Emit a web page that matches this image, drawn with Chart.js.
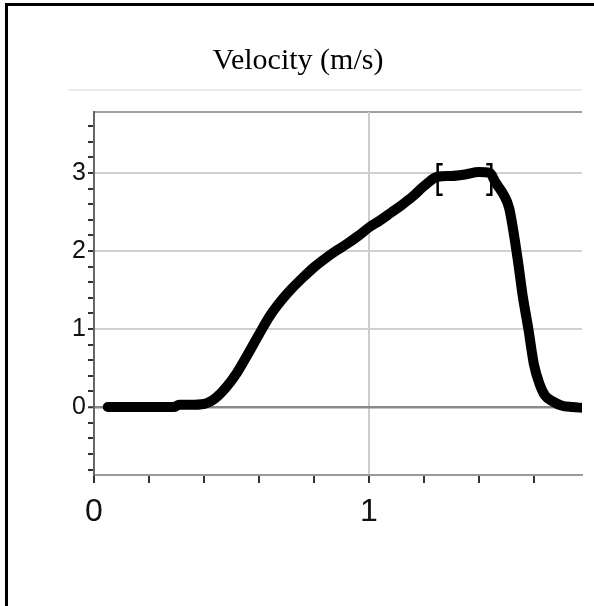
<!DOCTYPE html>
<html>
<head>
<meta charset="utf-8">
<title>Velocity (m/s)</title>
<script src="https://cdn.jsdelivr.net/npm/chart.js@4.4.1/dist/chart.umd.min.js"></script>
<style>
    html, body { margin: 0; padding: 0; background: #ffffff; }
    #wrap { position: relative; width: 594px; height: 606px; overflow: hidden; }
    #velocityChart { position: absolute; left: 0; top: 0; }
    #frame {
        position: absolute; left: 5px; top: 3px; width: 600px; height: 620px;
        border-left: 3px solid #000; border-top: 3px solid #000;
        pointer-events: none;
    }
</style>
</head>
<body>
<div id="wrap">
    <canvas id="velocityChart" width="594" height="606"></canvas>
    <div id="frame"></div>
</div>
<script>
// time (s) and velocity (m/s)
const time = [0.05, 0.10, 0.15, 0.20, 0.25, 0.29, 0.31, 0.35, 0.40, 0.44, 0.48, 0.52, 0.56, 0.60, 0.64, 0.68,
    0.72, 0.76, 0.80, 0.84, 0.88, 0.92, 0.96, 1.00, 1.04, 1.08, 1.12, 1.16, 1.20, 1.25, 1.30, 1.35,
    1.40, 1.44, 1.46, 1.49, 1.51, 1.54, 1.56, 1.58, 1.60, 1.62, 1.64, 1.67, 1.70, 1.74, 1.78];
const velocity = [0, 0, 0, 0, 0, 0, 0.03, 0.03, 0.04, 0.11, 0.25, 0.44, 0.68, 0.93, 1.17, 1.36,
    1.52, 1.66, 1.79, 1.90, 2.00, 2.09, 2.19, 2.30, 2.39, 2.49, 2.59, 2.70, 2.83, 2.95, 2.96, 2.98,
    3.01, 3.00, 2.88, 2.72, 2.55, 1.92, 1.41, 1.00, 0.55, 0.30, 0.15, 0.07, 0.02, 0.00, -0.01];

// selection brackets (time) and their vertical extent (m/s)
const bracketTimes = [1.25, 1.445];
const bracketRange = [2.72, 3.11];

// axis ranges / labels
const xRange = [0, 1.775];
const yRange = [-0.87, 3.78];
const xTickLabels = [0, 1];
const yTickLabels = [0, 1, 2, 3];

const near = (a, b) => Math.abs(a - b) < 1e-6;
const isLabel = (list, v) => list.some(l => near(l, v));

// title, faint toolbar line, plot top edge and the [ ] markers
const decorations = {
    id: 'decorations',
    beforeDraw(chart) {
        const { ctx, chartArea } = chart;
        ctx.save();
        ctx.strokeStyle = '#ebebeb';
        ctx.lineWidth = 2;
        ctx.beginPath();
        ctx.moveTo(68, 90);
        ctx.lineTo(chartArea.right, 90);
        ctx.stroke();

        ctx.strokeStyle = '#a0a0a0';
        ctx.beginPath();
        ctx.moveTo(chartArea.left, chartArea.top);
        ctx.lineTo(chartArea.right, chartArea.top);
        ctx.stroke();

        ctx.fillStyle = '#000';
        ctx.font = '30px "Liberation Serif", "Times New Roman", serif';
        ctx.textAlign = 'center';
        ctx.textBaseline = 'alphabetic';
        ctx.fillText('Velocity (m/s)', 298, 69);
        ctx.restore();
    },
    afterDatasetsDraw(chart) {
        const { ctx, scales } = chart;
        const yTop = scales.y.getPixelForValue(bracketRange[1]);
        const yBot = scales.y.getPixelForValue(bracketRange[0]);
        ctx.save();
        ctx.strokeStyle = '#000';
        ctx.lineWidth = 2.5;
        bracketTimes.forEach(function (t, i) {
            const x = scales.x.getPixelForValue(t);
            const dir = i === 0 ? 1 : -1;
            ctx.beginPath();
            ctx.moveTo(x + dir * 5, yTop);
            ctx.lineTo(x, yTop);
            ctx.lineTo(x, yBot);
            ctx.lineTo(x + dir * 5, yBot);
            ctx.stroke();
        });
        ctx.restore();
    }
};

const ctx = document.getElementById('velocityChart').getContext('2d');

new Chart(ctx, {
    type: 'line',
    data: {
        datasets: [{
            label: 'Velocity',
            data: time.map((t, i) => ({ x: t, y: velocity[i] })),
            borderColor: '#000',
            borderWidth: 10,
            borderCapStyle: 'round',
            borderJoinStyle: 'round',
            pointRadius: 0,
            cubicInterpolationMode: 'monotone',
            fill: false
        }]
    },
    options: {
        responsive: false,
        animation: false,
        layout: { padding: { top: 112, right: 12, left: 0, bottom: 0 } },
        plugins: {
            legend: { display: false },
            tooltip: { enabled: false },
            title: { display: false }
        },
        scales: {
            x: {
                type: 'linear',
                min: xRange[0],
                max: xRange[1],
                afterFit(scale) { scale.height = 131; },
                border: { color: '#9a9a9a', width: 2 },
                grid: {
                    color: c => near(c.tick.value, 1) ? '#cdcdcd' : 'rgba(0,0,0,0)',
                    lineWidth: 2,
                    tickColor: '#333',
                    tickLength: 8,
                    tickWidth: 2
                },
                ticks: {
                    stepSize: 0.2,
                    includeBounds: false,
                    autoSkip: false,
                    maxRotation: 0,
                    padding: 10,
                    color: '#111',
                    font: { family: '"Liberation Sans", Arial, sans-serif', size: 32 },
                    callback: v => isLabel(xTickLabels, v) ? String(Math.round(v)) : ''
                }
            },
            y: {
                type: 'linear',
                min: yRange[0],
                max: yRange[1],
                afterFit(scale) { scale.width = 94; },
                border: { color: '#666', width: 2 },
                grid: {
                    color: c => isLabel(yTickLabels, c.tick.value) ? (near(c.tick.value, 0) ? '#8a8a8a' : '#d0d0d0') : 'rgba(0,0,0,0)',
                    lineWidth: c => near(c.tick.value, 0) ? 2.5 : 2,
                    tickColor: '#333',
                    tickLength: 6,
                    tickWidth: 2
                },
                ticks: {
                    stepSize: 0.2,
                    includeBounds: false,
                    autoSkip: false,
                    padding: 2,
                    color: '#111',
                    font: { family: '"Liberation Sans", Arial, sans-serif', size: 25 },
                    callback: v => isLabel(yTickLabels, v) ? String(Math.round(v)) : ''
                }
            }
        }
    },
    plugins: [decorations]
});
</script>
</body>
</html>
